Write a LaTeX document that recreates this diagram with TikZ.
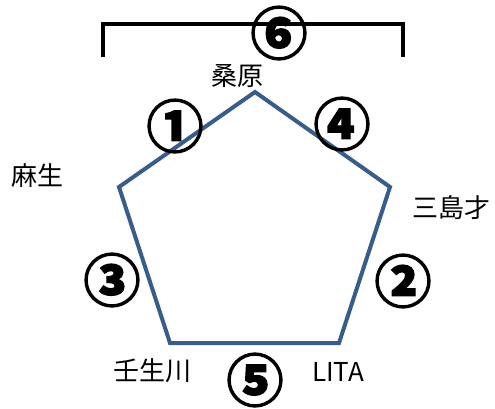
\documentclass[tikz,border=0pt]{standalone}
\usepackage{fontspec}
\newfontfamily\jp{Noto Sans CJK JP}
\newfontfamily\jpnum[BoldFeatures={FakeBold=2}]{Noto Sans CJK JP}
\definecolor{pentblue}{RGB}{56,93,138}
\begin{document}
\begin{tikzpicture}[x=1pt,y=-1pt,
  lbl/.style={inner sep=0pt, font=\jp\fontsize{26}{31}\selectfont},
  num/.style={inner sep=0pt, font=\jpnum\bfseries\fontsize{57}{66}\selectfont},
  edge/.style={draw=pentblue, line width=4pt, line join=miter},
  brk/.style={draw=black, line width=3.5pt}]
\useasboundingbox (0,0) rectangle (495,408);
% pentagon vertices
\coordinate (t) at (255,92);
\coordinate (r) at (390,187);
\coordinate (br) at (339,343);
\coordinate (bl) at (170,343);
\coordinate (l) at (119,187);
\draw[edge] (t) -- (r) -- (br) -- (bl) -- (l) -- cycle;
% bracket
\coordinate (b1) at (103,57);
\coordinate (b2) at (103,24);
\coordinate (b3) at (403,24);
\coordinate (b4) at (403,57);
\draw[brk] (b1) -- (b2) -- (b3) -- (b4);
% labels
\node[lbl] (kuwabara) at (237,76) {桑原};
\node[lbl] (aso) at (37,176) {麻生};
\node[lbl] (mishima) at (451,208) {三島才};
\node[lbl] (nyugawa) at (152,371) {壬生川};
\node[lbl] (lita) at (338,372) {LITA};
% numbers
\node[num] (n6) at (279,33) {⑥};
\node[num] (n1) at (175,126) {①};
\node[num] (n4) at (342,124) {④};
\node[num] (n3) at (112,280) {③};
\node[num] (n2) at (403,281) {②};
\node[num] (n5) at (255,380) {⑤};
\end{tikzpicture}
\end{document}
